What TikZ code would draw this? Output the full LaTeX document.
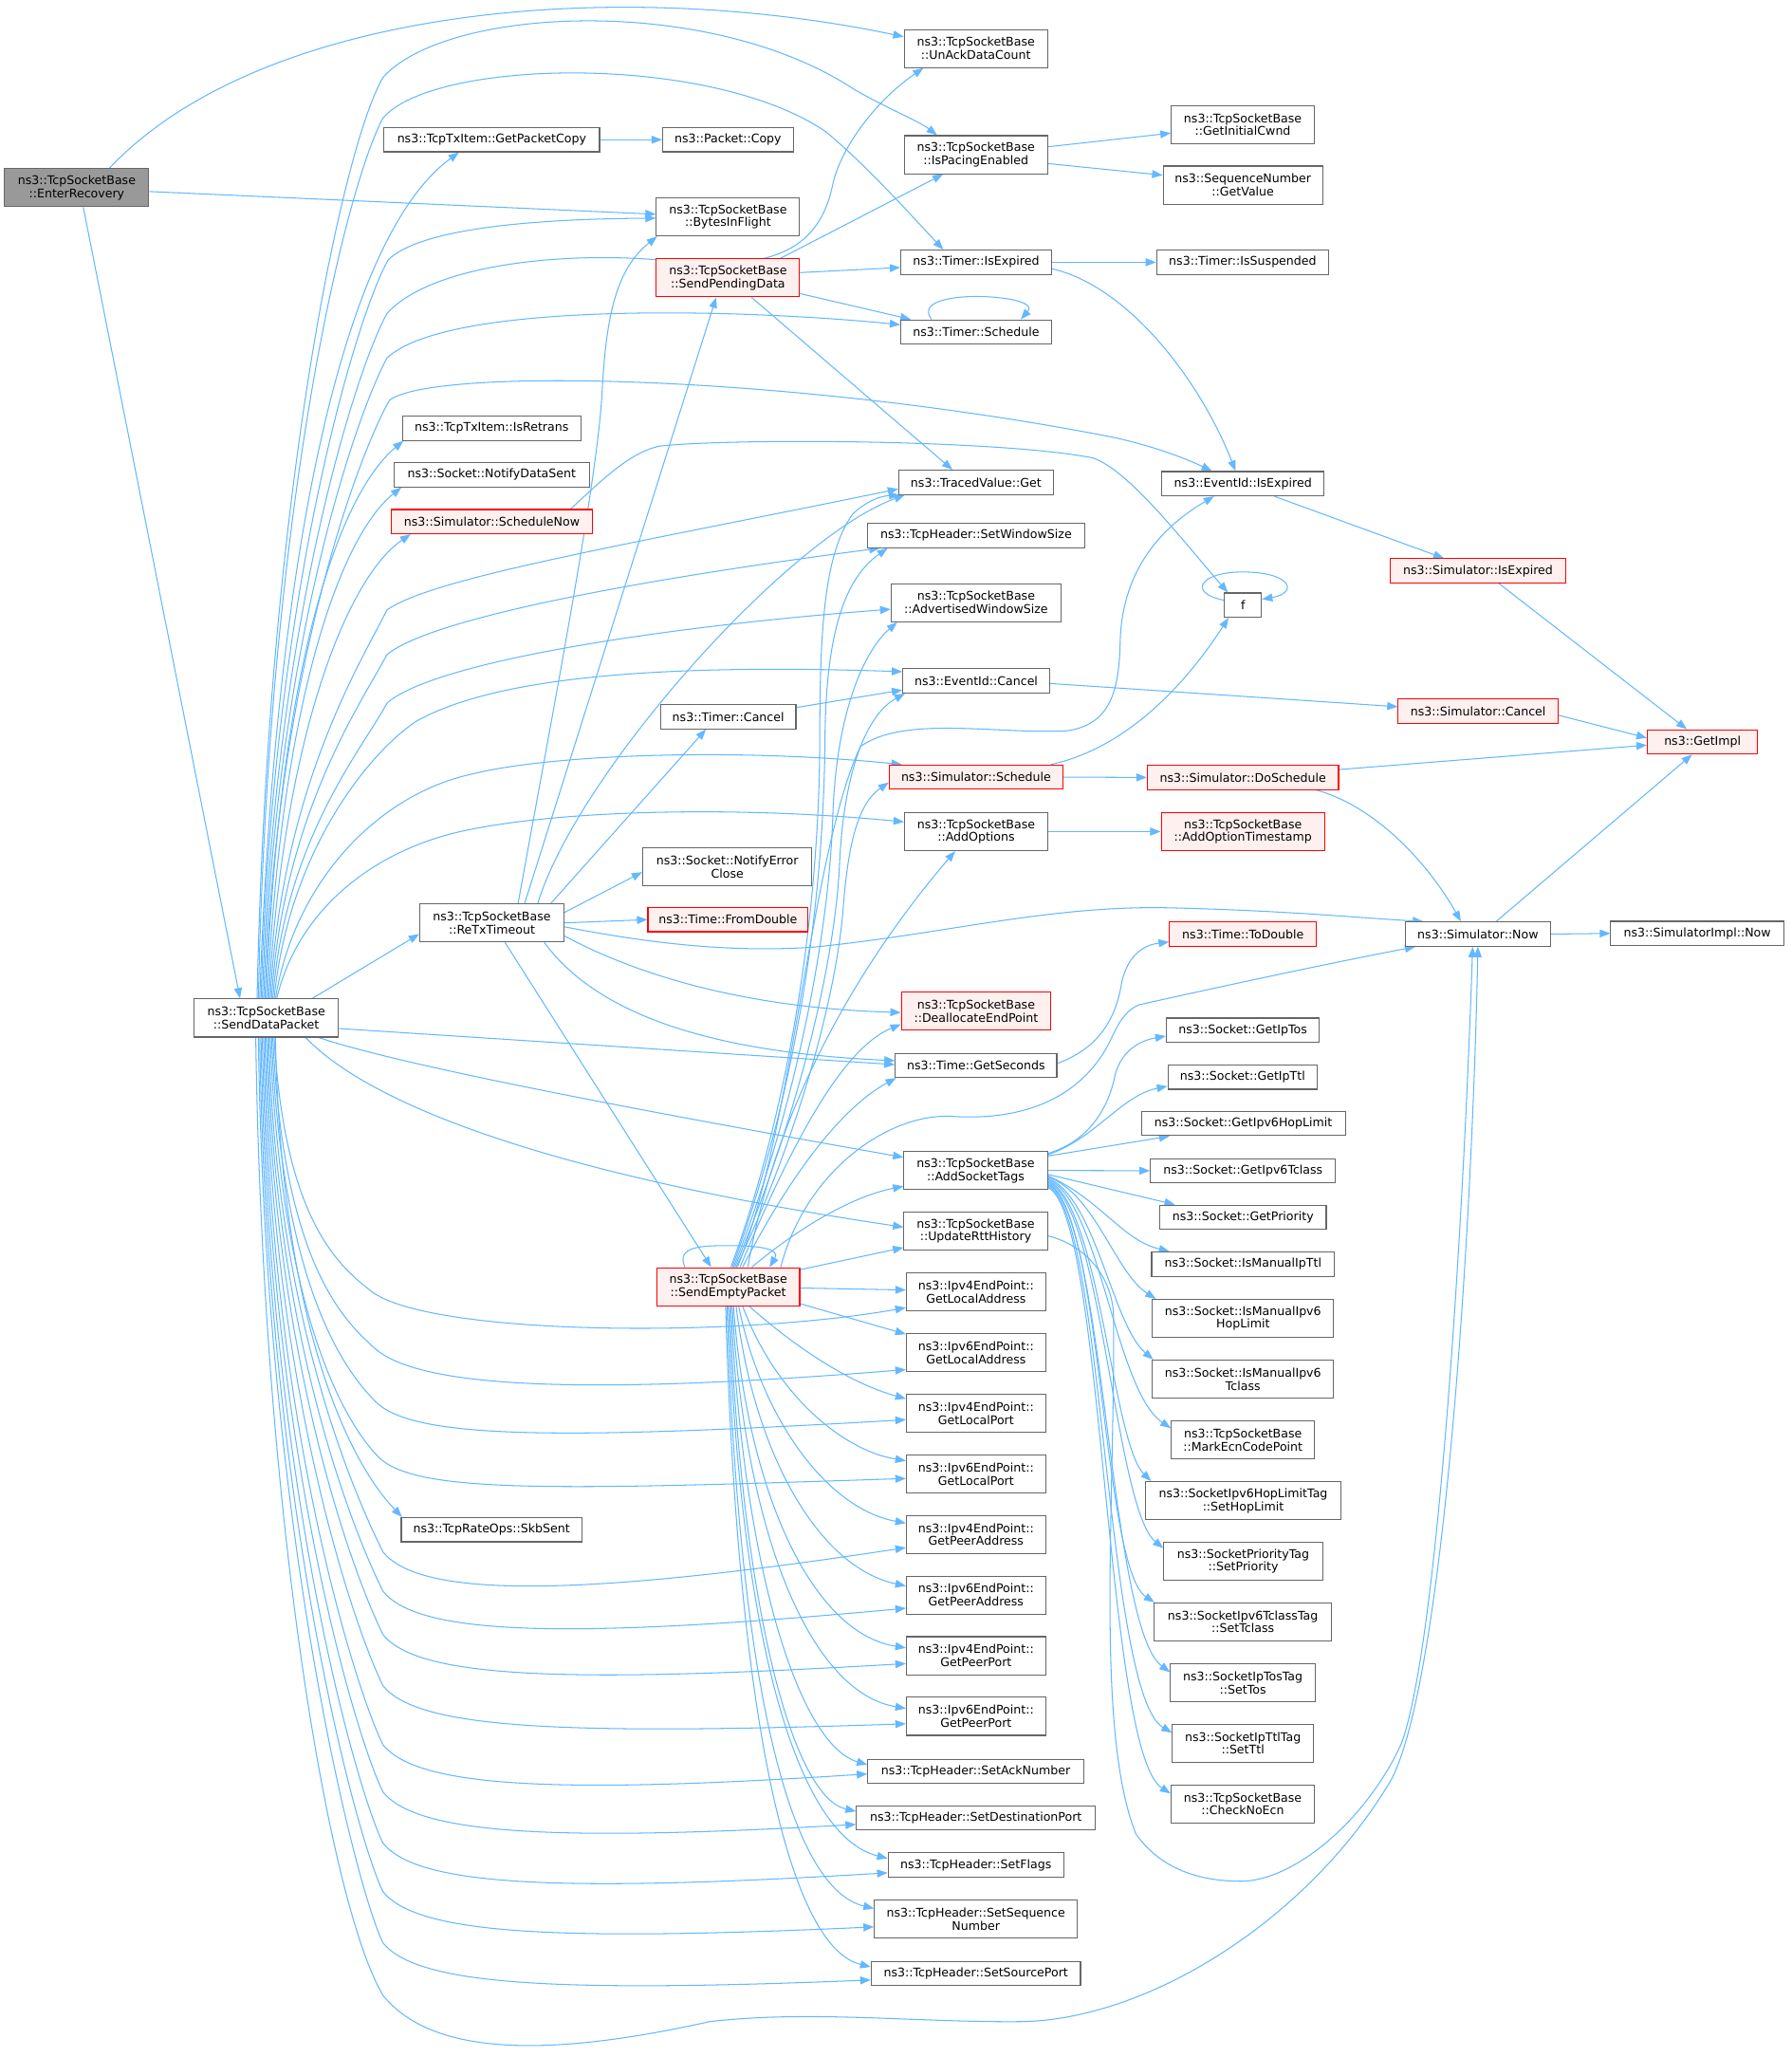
\documentclass[tikz,border=0pt]{standalone}
\usepackage{fontspec}
\setmainfont{DejaVu Sans}
\usetikzlibrary{arrows.meta}
\definecolor{edgeblue}{HTML}{63B8FF}
\definecolor{nodegray}{HTML}{666666}
\definecolor{redfill}{HTML}{FFF0F0}
\definecolor{rootfill}{HTML}{999999}
\pgfdeclarelayer{edgelayer}
\pgfsetlayers{edgelayer,main}
\newcommand{\dgfont}{\fontsize{9.1}{10}\selectfont}
\begin{document}
\begin{tikzpicture}[x=1pt,y=-1pt,
 nb/.style={draw=nodegray, fill=white, line width=0.8pt, inner sep=0pt, align=center, font=\dgfont},
 rb/.style={nb, draw=red, fill=redfill},
 gb/.style={nb, fill=rootfill},
 one/.style={minimum height=18.5pt},
 two/.style={minimum height=29pt},
 e/.style={draw=edgeblue, line width=0.75pt, -{Triangle[length=8pt,width=6pt]}}]
\path[use as bounding box] (0,0) rectangle (1365.5,1568);
% ---------------- nodes ----------------
\node[gb,two,minimum width=110] (er) at (58.5,143) {ns3::TcpSocketBase\\::EnterRecovery};
\node[nb,two,minimum width=110] (sdp) at (203,776) {ns3::TcpSocketBase\\::SendDataPacket};
\node[nb,two,minimum width=109.3] (unack) at (744,37) {ns3::TcpSocketBase\\::UnAckDataCount};
\node[nb,one,minimum width=164.3] (gpc) at (374.9,106.5) {ns3::TcpTxItem::GetPacketCopy};
\node[nb,one,minimum width=99.6] (pcopy) at (555,106.5) {ns3::Packet::Copy};
\node[nb,two,minimum width=109.3] (pace) at (744,117.9) {ns3::TcpSocketBase\\::IsPacingEnabled};
\node[nb,two,minimum width=109] (icwnd) at (947.5,95) {ns3::TcpSocketBase\\::GetInitialCwnd};
\node[nb,two,minimum width=121.6] (gval) at (947.6,141.1) {ns3::SequenceNumber\\::GetValue};
\node[nb,two,minimum width=109.2] (bif) at (555,165.3) {ns3::TcpSocketBase\\::BytesInFlight};
\node[rb,two,minimum width=109.2] (spd) at (555,211.8) {ns3::TcpSocketBase\\::SendPendingData};
\node[nb,one,minimum width=114.8] (tie) at (744.2,199.9) {ns3::Timer::IsExpired};
\node[nb,one,minimum width=131.2] (tis) at (947.4,199.9) {ns3::Timer::IsSuspended};
\node[nb,one,minimum width=114.8] (tsch) at (744.2,253.1) {ns3::Timer::Schedule};
\node[nb,one,minimum width=135.8] (retr) at (374.8,326.4) {ns3::TcpTxItem::IsRetrans};
\node[nb,one,minimum width=148.9] (nds) at (374.85,361.9) {ns3::Socket::NotifyDataSent};
\node[rb,one,minimum width=153.2] (snow) at (375,397.6) {ns3::Simulator::ScheduleNow};
\node[nb,one,minimum width=117.9] (tvg) at (744.15,367.7) {ns3::TracedValue::Get};
\node[nb,one,minimum width=123.6] (eie) at (947.6,368.7) {ns3::EventId::IsExpired};
\node[nb,one,minimum width=166.1] (sws) at (744.15,408.2) {ns3::TcpHeader::SetWindowSize};
\node[nb,two,minimum width=129.5] (aws) at (744.15,459.4) {ns3::TcpSocketBase\\::AdvertisedWindowSize};
\node[nb,one,minimum width=28.2] (f) at (947.6,461.3) {f};
\node[rb,one,minimum width=133.3] (sie) at (1126.85,435.2) {ns3::Simulator::IsExpired};
\node[nb,one,minimum width=111.9] (eic) at (744.25,519) {ns3::EventId::Cancel};
\node[nb,one,minimum width=103.2] (tcan) at (555.2,546.3) {ns3::Timer::Cancel};
\node[rb,one,minimum width=121.8] (scan) at (1126.9,542.2) {ns3::Simulator::Cancel};
\node[rb,one,minimum width=84] (gimpl) at (1298,565.5) {ns3::GetImpl};
\node[rb,one,minimum width=132.3] (ssch) at (744.15,592.4) {ns3::Simulator::Schedule};
\node[rb,one,minimum width=145.8] (dosch) at (947.6,592.6) {ns3::Simulator::DoSchedule};
\node[nb,two,minimum width=109.2] (addopt) at (744.2,633.9) {ns3::TcpSocketBase\\::AddOptions};
\node[rb,two,minimum width=124.6] (aots) at (947.6,633.9) {ns3::TcpSocketBase\\::AddOptionTimestamp};
\node[nb,two,minimum width=129] (nerr) at (554.5,660.8) {ns3::Socket::NotifyError\\Close};
\node[nb,two,minimum width=110] (rtx) at (375,703.5) {ns3::TcpSocketBase\\::ReTxTimeout};
\node[rb,one,minimum width=122] (fromd) at (555,701) {ns3::Time::FromDouble};
\node[nb,one,minimum width=110.5] (snw) at (1126.75,712) {ns3::Simulator::Now};
\node[nb,one,minimum width=132] (simpl) at (1294,711.5) {ns3::SimulatorImpl::Now};
\node[rb,one,minimum width=111.9] (todbl) at (947.65,712) {ns3::Time::ToDouble};
\node[rb,two,minimum width=113.9] (dealloc) at (744.15,770.8) {ns3::TcpSocketBase\\::DeallocateEndPoint};
\node[nb,one,minimum width=123.1] (gsec) at (744.15,812.1) {ns3::Time::GetSeconds};
\node[nb,one,minimum width=116.6] (gtos) at (947.5,785.3) {ns3::Socket::GetIpTos};
\node[nb,one,minimum width=113.9] (gttl) at (947.35,821) {ns3::Socket::GetIpTtl};
\node[nb,one,minimum width=155.5] (ghop) at (947.85,856.4) {ns3::Socket::GetIpv6HopLimit};
\node[nb,two,minimum width=109.3] (ast) at (743.85,892.2) {ns3::TcpSocketBase\\::AddSocketTags};
\node[nb,one,minimum width=141.1] (gtcl) at (947.65,892.4) {ns3::Socket::GetIpv6Tclass};
\node[nb,one,minimum width=126.9] (gpri) at (947.65,927.9) {ns3::Socket::GetPriority};
\node[nb,two,minimum width=109.3] (urt) at (743.85,938.4) {ns3::TcpSocketBase\\::UpdateRttHistory};
\node[rb,two,minimum width=109] (sep) at (555.2,980.8) {ns3::TcpSocketBase\\::SendEmptyPacket};
\node[nb,one,minimum width=139.3] (imttl) at (947.65,963.6) {ns3::Socket::IsManualIpTtl};
\node[nb,two,minimum width=138.1] (imhop) at (947.65,1005) {ns3::Socket::IsManualIpv6\\HopLimit};
\node[nb,two,minimum width=138.1] (imtcl) at (947.65,1051.2) {ns3::Socket::IsManualIpv6\\Tclass};
\node[nb,two,minimum width=109.2] (mecn) at (947.6,1097.6) {ns3::TcpSocketBase\\::MarkEcnCodePoint};
\node[nb,two,minimum width=149.6] (shop) at (947.8,1143.9) {ns3::SocketIpv6HopLimitTag\\::SetHopLimit};
\node[nb,two,minimum width=121] (spri) at (947.8,1190.1) {ns3::SocketPriorityTag\\::SetPriority};
\node[nb,two,minimum width=135.1] (stcl) at (947.55,1236.3) {ns3::SocketIpv6TclassTag\\::SetTclass};
\node[nb,two,minimum width=110.3] (stos) at (947.55,1282.6) {ns3::SocketIpTosTag\\::SetTos};
\node[nb,two,minimum width=107.5] (sttl) at (947.55,1328.8) {ns3::SocketIpTtlTag\\::SetTtl};
\node[nb,two,minimum width=109.3] (cnoecn) at (947.45,1375.1) {ns3::TcpSocketBase\\::CheckNoEcn};
\node[nb,two,minimum width=106.2] (v4la) at (744.1,984.8) {ns3::Ipv4EndPoint::\\GetLocalAddress};
\node[nb,two,minimum width=106.2] (v6la) at (744.1,1031) {ns3::Ipv6EndPoint::\\GetLocalAddress};
\node[nb,two,minimum width=106.2] (v4lp) at (744.1,1077.2) {ns3::Ipv4EndPoint::\\GetLocalPort};
\node[nb,two,minimum width=106.2] (v6lp) at (744.1,1123.5) {ns3::Ipv6EndPoint::\\GetLocalPort};
\node[nb,two,minimum width=106.2] (v4pa) at (744.1,1169.7) {ns3::Ipv4EndPoint::\\GetPeerAddress};
\node[nb,two,minimum width=106.2] (v6pa) at (744.1,1215.9) {ns3::Ipv6EndPoint::\\GetPeerAddress};
\node[nb,two,minimum width=106.2] (v4pp) at (744.1,1262.1) {ns3::Ipv4EndPoint::\\GetPeerPort};
\node[nb,two,minimum width=106.2] (v6pp) at (744.1,1308.3) {ns3::Ipv6EndPoint::\\GetPeerPort};
\node[nb,one,minimum width=137.8] (skb) at (374.8,1166) {ns3::TcpRateOps::SkbSent};
\node[nb,one,minimum width=164.6] (sack) at (743.9,1350.2) {ns3::TcpHeader::SetAckNumber};
\node[nb,one,minimum width=182] (sdst) at (744,1385.7) {ns3::TcpHeader::SetDestinationPort};
\node[nb,one,minimum width=133.8] (sflg) at (744,1421.6) {ns3::TcpHeader::SetFlags};
\node[nb,two,minimum width=154.6] (sseq) at (744,1462.8) {ns3::TcpHeader::SetSequence\\Number};
\node[nb,one,minimum width=159.6] (ssrc) at (744,1504.3) {ns3::TcpHeader::SetSourcePort};
% ---------------- edges ----------------
\begin{pgfonlayer}{edgelayer}
\fill[white] (0,0) rectangle (1365.5,1568);
% EnterRecovery
\draw[e] ([xshift=25]er.north) .. controls (200,5) and (470,-18) .. ([yshift=9]unack.west);
\draw[e] ([yshift=-3]er.east) -- ([yshift=2]bif.west);
\draw[e] ([xshift=5]er.south) -- ([xshift=-20]sdp.north);
% SendDataPacket upward bundle
\draw[e] ([xshift=-7]sdp.north) .. controls (204,375) and (262,110) .. (292,59) .. controls (340,5) and (540,-5) .. (651,68) .. controls (675,82) and (700,92) .. ([xshift=-29.6]pace.north);
\draw[e] ([xshift=-6]sdp.north) .. controls (205,375) and (265,140) .. (292,90) .. controls (330,45) and (540,40) .. (629,100) .. controls (660,125) and (700,170) .. ([xshift=-25]tie.north);
\draw[e] ([xshift=-5]sdp.north) .. controls (210,420) and (262,180) .. ([xshift=-25]gpc.south);
\draw[e] ([xshift=-4]sdp.north) .. controls (208,450) and (272,240) .. (296,198) .. controls (320,175) and (400,167) .. ([yshift=-1]bif.west);
\draw[e] ([xshift=-3]sdp.north) .. controls (209,475) and (272,280) .. (295,239) .. controls (330,200) and (440,190) .. (520,200) .. controls (590,205) and (625,190) .. (635,140) .. controls (642,110) and (670,75) .. ([xshift=-40]unack.south);
\draw[e] ([xshift=-2]sdp.north) .. controls (210,490) and (273,313) .. (295,273) .. controls (340,230) and (560,235) .. ([yshift=5.6]tsch.west);
\draw[e] ([xshift=-1]sdp.north) .. controls (211,510) and (274,345) .. (297,305) .. controls (330,280) and (600,285) .. (847,333) .. controls (880,340) and (905,350) .. ([xshift=-23.6]eie.north);
\draw[e] ([xshift=0]sdp.north) .. controls (212,520) and (255,380) .. ([xshift=1]retr.south west);
\draw[e] ([xshift=1]sdp.north) .. controls (214,540) and (258,410) .. ([xshift=6]nds.south west);
\draw[e] ([xshift=2]sdp.north) .. controls (216,560) and (265,440) .. ([xshift=15]snow.south west);
\draw[e] ([xshift=3]sdp.north) .. controls (215,600) and (275,505) .. (295,465) .. controls (330,440) and (480,415) .. ([yshift=-5]tvg.west);
\draw[e] ([xshift=4]sdp.north) .. controls (216,620) and (276,535) .. (295,499) .. controls (330,470) and (500,440) .. ([xshift=10]sws.south west);
\draw[e] ([xshift=5]sdp.north) .. controls (217,640) and (277,570) .. (295,536) .. controls (330,505) and (500,478) .. ([yshift=-5]aws.west);
\draw[e] ([xshift=6]sdp.north) .. controls (220,650) and (280,575) .. (317,550) .. controls (370,520) and (480,505) .. ([yshift=7]eic.west);
\draw[e] ([xshift=7]sdp.north) .. controls (225,670) and (290,605) .. (360,590) .. controls (420,575) and (560,570) .. ([xshift=10]ssch.north west);
\draw[e] ([xshift=8]sdp.north) .. controls (228,690) and (290,645) .. (360,632) .. controls (430,618) and (560,614) .. ([yshift=7.4]addopt.west);
\draw[e] ([xshift=35]sdp.north) -- ([yshift=-8.5]rtx.west);
% SendDataPacket right side
\draw[e] ([yshift=-8]sdp.east) -- ([yshift=0.6]gsec.west);
\draw[e] ([xshift=40]sdp.south) .. controls (300,810) and (450,840) .. ([yshift=10]ast.west);
\draw[e] ([xshift=30]sdp.south) .. controls (290,850) and (450,900) .. ([yshift=3]urt.west);
% SendDataPacket downward bundle
\draw[e] ([xshift=7]sdp.south) .. controls (214,1000) and (262,1110) .. ([xshift=1]skb.north west);
\draw[e] ([xshift=6]sdp.south) .. controls (217,930) and (258,965) .. (284,985) .. controls (330,1018) and (560,1020) .. ([yshift=-12]v4la.west);
\draw[e] ([xshift=5]sdp.south) .. controls (216,960) and (260,1005) .. (286,1028) .. controls (318,1056) and (430,1065) .. ([yshift=-13]v6la.west);
\draw[e] ([xshift=4]sdp.south) .. controls (215,980) and (262,1045) .. (288,1070) .. controls (318,1096) and (420,1098) .. ([yshift=-5]v4lp.west);
\draw[e] ([xshift=3]sdp.south) .. controls (214,1000) and (262,1085) .. (290,1112) .. controls (320,1138) and (420,1136) .. ([yshift=-3.5]v6lp.west);
\draw[e] ([xshift=2]sdp.south) .. controls (210,1006) and (272,1143) .. (292,1183) .. controls (318,1215) and (420,1221) .. ([yshift=-10]v4pa.west);
\draw[e] ([xshift=1]sdp.south) .. controls (209,1023) and (272,1173) .. (292,1213) .. controls (318,1245) and (420,1251) .. ([yshift=-10]v6pa.west);
\draw[e] ([xshift=0]sdp.south) .. controls (208,1041) and (272,1206) .. (292,1246) .. controls (318,1278) and (420,1284) .. ([yshift=-6]v4pp.west);
\draw[e] ([xshift=-1]sdp.south) .. controls (207,1063) and (272,1245) .. (292,1285) .. controls (318,1317) and (420,1323) .. ([yshift=-5.7]v6pp.west);
\draw[e] ([xshift=-2]sdp.south) .. controls (206,1087) and (272,1290) .. (292,1330) .. controls (318,1362) and (420,1368) .. ([yshift=-2]sack.west);
\draw[e] ([xshift=-3]sdp.south) .. controls (205,1107) and (272,1326) .. (292,1366) .. controls (318,1398) and (420,1404) .. ([yshift=-5]sdst.west);
\draw[e] ([xshift=-4]sdp.south) .. controls (204,1129) and (272,1365) .. (292,1405) .. controls (318,1437) and (420,1443) .. ([yshift=-6]sflg.west);
\draw[e] ([xshift=-5]sdp.south) .. controls (203,1149) and (272,1402) .. (292,1442) .. controls (318,1474) and (420,1480) .. ([yshift=-6]sseq.west);
\draw[e] ([xshift=-6]sdp.south) .. controls (202,1170) and (272,1441) .. (292,1481) .. controls (318,1513) and (420,1519) .. ([yshift=-5]ssrc.west);
\draw[e] ([xshift=-8]sdp.south) .. controls (200,1150) and (250,1450) .. (292,1521) .. controls (330,1568) and (420,1568) .. (541,1541) .. controls (620,1532) and (700,1542) .. (781,1541) .. controls (880,1538) and (1000,1460) .. (1061,1356) .. controls (1100,1280) and (1122,950) .. (snw.south);
% UpdateRttHistory
\draw[e] ([yshift=-3.6]urt.east) .. controls (830,950) and (848,975) .. (849,1003) .. controls (850,1150) and (835,1320) .. (866,1398) .. controls (885,1425) and (915,1434) .. (946,1434) .. controls (985,1434) and (1040,1390) .. (1068,1330) .. controls (1095,1260) and (1115,950) .. ([xshift=-4]snw.south);
% ReTxTimeout
\draw[e] ([xshift=20]rtx.north) .. controls (420,550) and (455,370) .. (459,300) .. controls (462,240) and (470,205) .. ([xshift=1]bif.south west);
\draw[e] ([xshift=25]rtx.north) -- ([xshift=-9]spd.south);
\draw[e] ([xshift=35]rtx.north) .. controls (440,590) and (600,410) .. ([xshift=5]tvg.south west);
\draw[e] ([xshift=45]rtx.north) -- ([xshift=-17]tcan.south);
\draw[e] ([yshift=8]rtx.east) -- ([yshift=-4]nerr.west);
\draw[e] (rtx.east) -- (fromd.west);
\draw[e] ([yshift=-3]rtx.east) .. controls (500,720) and (560,726) .. (620,722) .. controls (720,712) and (800,690) .. (891,692) .. controls (980,694) and (1040,700) .. ([xshift=14]snw.north west);
\draw[e] ([yshift=-10]rtx.east) .. controls (480,740) and (560,768) .. ([yshift=-1]dealloc.west);
\draw[e] ([xshift=40]rtx.south) .. controls (460,780) and (560,803) .. ([yshift=3.6]gsec.west);
\draw[e] ([xshift=10]rtx.south) -- ([xshift=-13]sep.north);
% SendEmptyPacket
\draw[e] ([xshift=-33]sep.north) .. controls (515,950) and (535,949.5) .. (555,949.5) .. controls (580,949.5) and (595,952) .. ([xshift=31.5]sep.north);
\draw[e] ([xshift=2]sep.north) .. controls (600,850) and (625,700) .. (625,560) .. controls (625,470) and (630,420) .. (650,392) .. controls (660,382) and (672,378) .. ([xshift=1]tvg.south west);
\draw[e] ([xshift=3]sep.north) .. controls (601,850) and (628,710) .. (629,560) .. controls (630,480) and (645,440) .. ([xshift=16]sws.south west);
\draw[e] ([xshift=4]sep.north) .. controls (603,855) and (632,720) .. (635,620) .. controls (638,540) and (660,495) .. ([xshift=5]aws.south west);
\draw[e] ([xshift=5]sep.north) .. controls (605,860) and (636,740) .. (640,660) .. controls (643,590) and (660,545) .. ([xshift=2]eic.south west);
\draw[e] ([xshift=6]sep.north) .. controls (607,870) and (638,760) .. (643,690) .. controls (647,640) and (655,612) .. ([yshift=-4]ssch.west);
\draw[e] ([xshift=7]sep.north) .. controls (605,860) and (618,650) .. (656,569) .. controls (690,545) and (760,560) .. (814,557) .. controls (845,552) and (853,530) .. (854,490) .. controls (855,440) and (880,405) .. ([xshift=-22]eie.south);
\draw[e] ([xshift=9]sep.north) .. controls (600,880) and (640,800) .. ([yshift=-10]dealloc.west);
\draw[e] ([xshift=11]sep.north) .. controls (600,900) and (640,845) .. ([xshift=1]gsec.south west);
\draw[e] ([xshift=15]sep.north) .. controls (590,850) and (650,740) .. ([xshift=-16]addopt.south);
\draw[e] ([xshift=18]sep.north) .. controls (610,935) and (650,912) .. ([yshift=-12]ast.west);
\draw[e] ([xshift=40]sep.north) .. controls (615,890) and (680,848) .. (726,851) .. controls (790,855) and (830,830) .. (848,790) .. controls (855,775) and (860,770) .. (868,766) .. controls (940,750) and (1010,735) .. ([xshift=8]snw.south west);
\draw[e] ([yshift=13]sep.east) -- ([yshift=-12.6]urt.west);
\draw[e] ([yshift=-1]sep.east) -- ([yshift=1.5]v4la.west);
\draw[e] ([yshift=-13]sep.east) -- ([yshift=14]v6la.west);
\draw[e] ([xshift=16]sep.south) .. controls (610,1030) and (650,1055) .. ([yshift=11]v4lp.west);
\draw[e] ([xshift=11]sep.south) .. controls (590,1060) and (640,1105) .. ([yshift=10]v6lp.west);
\draw[e] ([xshift=8]sep.south) .. controls (580,1080) and (630,1150) .. ([yshift=8.7]v4pa.west);
\draw[e] ([xshift=6]sep.south) .. controls (575,1110) and (625,1195) .. ([yshift=7]v6pa.west);
\draw[e] ([xshift=4]sep.south) .. controls (570,1140) and (620,1245) .. ([yshift=6]v4pp.west);
\draw[e] ([xshift=3]sep.south) .. controls (568,1170) and (618,1290) .. ([yshift=6]v6pp.west);
\draw[e] ([xshift=2]sep.south) .. controls (567,1200) and (610,1330) .. ([yshift=5]sack.west);
\draw[e] ([xshift=1]sep.south) .. controls (566,1230) and (605,1370) .. ([yshift=5]sdst.west);
\draw[e] ([xshift=0]sep.south) .. controls (565,1260) and (610,1400) .. ([yshift=5]sflg.west);
\draw[e] ([xshift=-1]sep.south) .. controls (564,1300) and (605,1440) .. ([yshift=8]sseq.west);
\draw[e] ([xshift=-2]sep.south) .. controls (563,1330) and (605,1485) .. ([yshift=5]ssrc.west);
% SendPendingData
\draw[e] ([xshift=40]spd.north) -- ([xshift=-25]pace.south);
\draw[e] ([yshift=4]spd.east) -- ([yshift=-4]tie.west);
\draw[e] ([yshift=-12]spd.east) -- ([xshift=8]tsch.north west);
\draw[e] ([xshift=18]spd.south) -- ([xshift=-18]tvg.north);
% Timer
\draw[e] ([xshift=-34]tsch.north) .. controls (700,230) and (725,226) .. (744,226) .. controls (765,226) and (790,230) .. ([xshift=34]tsch.north);
\draw[e] (tie.east) -- (tis.west);
\draw[e] ([yshift=-5]tie.east) .. controls (860,218) and (915,290) .. ([xshift=-5.6]eie.north);
\draw[e] ([yshift=7]tcan.east) -- ([yshift=-7]eic.west);
% others
\draw[e] (gpc.east) -- (pcopy.west);
\draw[e] ([yshift=6]pace.east) -- ([yshift=-6.5]icwnd.west);
\draw[e] ([yshift=-6.8]pace.east) -- ([yshift=7.6]gval.west);
\draw[e] ([xshift=60]snow.north) .. controls (460,365) and (480,345) .. (503,340) .. controls (560,334) and (760,335) .. (833,349) .. controls (860,358) and (900,410) .. ([xshift=3]f.north west);
\draw[e] ([yshift=3.8]f.west) .. controls (905,452) and (915,436) .. (947,436) .. controls (985,436) and (990,452) .. ([yshift=4.5]f.east);
\draw[e] ([xshift=57]ssch.north) .. controls (860,570) and (905,520) .. ([xshift=-11]f.south);
\draw[e] (ssch.east) -- (dosch.west);
\draw[e] ([xshift=24]eie.south) -- ([xshift=-26]sie.north);
\draw[e] ([xshift=16]sie.south) -- ([xshift=-12]gimpl.north);
\draw[e] ([yshift=-2]eic.east) -- ([yshift=3.5]scan.west);
\draw[e] ([yshift=-3]scan.east) -- ([yshift=3]gimpl.west);
\draw[e] ([yshift=6]dosch.east) -- ([yshift=-2.5]gimpl.west);
\draw[e] ([xshift=56]dosch.south) .. controls (1050,615) and (1090,660) .. ([xshift=-13]snw.north);
\draw[e] (addopt.east) -- (aots.west);
\draw[e] ([xshift=14]snw.north) -- ([xshift=-8]gimpl.south);
\draw[e] (snw.east) -- (simpl.west);
\draw[e] ([yshift=1.5]gsec.east) .. controls (835,800) and (850,780) .. (855,750) .. controls (860,725) and (875,720) .. ([yshift=-6]todbl.west);
% AddSocketTags fan
\draw[e] ([yshift=13]ast.east) .. controls (830,870) and (845,845) .. (850,820) .. controls (855,800) and (870,793) .. ([yshift=-4.5]gtos.west);
\draw[e] ([yshift=12]ast.east) .. controls (835,868) and (855,835) .. ([yshift=-7]gttl.west);
\draw[e] ([yshift=11]ast.east) -- ([xshift=22]ghop.south west);
\draw[e] (ast.east) -- (gtcl.west);
\draw[e] ([yshift=-3]ast.east) -- ([xshift=12]gpri.north west);
\draw[e] ([yshift=-4]ast.east) .. controls (840,915) and (855,945) .. ([xshift=14]imttl.north west);
\draw[e] ([yshift=-5]ast.east) .. controls (835,910) and (850,970) .. ([xshift=3]imhop.north west);
\draw[e] ([yshift=-6]ast.east) .. controls (835,912) and (848,1010) .. ([xshift=1]imtcl.north west);
\draw[e] ([yshift=-7]ast.east) .. controls (838,914) and (850,1060) .. ([yshift=9]mecn.west);
\draw[e] ([yshift=-8]ast.east) .. controls (838,916) and (848,1100) .. ([xshift=5]shop.north west);
\draw[e] ([yshift=-9]ast.east) .. controls (840,918) and (850,1150) .. ([yshift=10]spri.west);
\draw[e] ([yshift=-10]ast.east) .. controls (840,920) and (840,1195) .. ([xshift=0.5]stcl.north west);
\draw[e] ([yshift=-11]ast.east) .. controls (842,920) and (845,1240) .. ([yshift=8]stos.west);
\draw[e] ([yshift=-12]ast.east) .. controls (842,922) and (842,1290) .. ([yshift=8]sttl.west);
\draw[e] ([yshift=-13]ast.east) .. controls (842,924) and (842,1335) .. ([yshift=8]cnoecn.west);
\end{pgfonlayer}
\end{tikzpicture}
\end{document}
